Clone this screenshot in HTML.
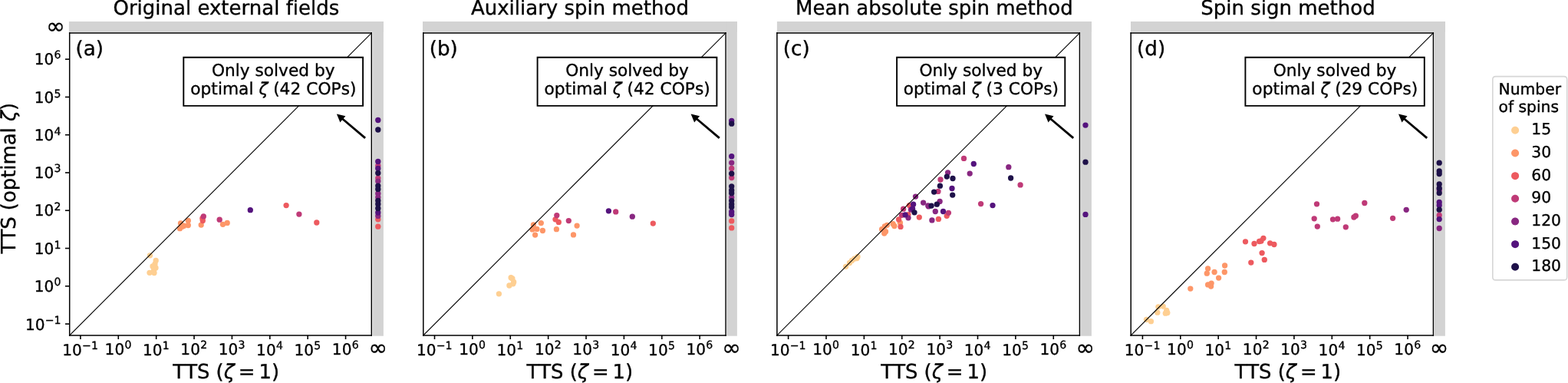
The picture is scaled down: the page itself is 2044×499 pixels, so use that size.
<!DOCTYPE html>
<html><head><meta charset="utf-8"><style>html,body{margin:0;padding:0;background:#fff;overflow:hidden}svg{display:block}svg text{text-rendering:geometricPrecision;stroke:#000;stroke-width:0.35px;font-variant-ligatures:none;font-feature-settings:"liga" 0,"clig" 0}</style></head><body>
<svg width="2044" height="499" viewBox="0 0 2044 499" version="1.1">
 
 <defs>
  <style type="text/css">*{stroke-linejoin: round; stroke-linecap: butt}</style>
 </defs>
 <g id="figure_1">
  <g id="patch_1">
   <path d="M 0 499 
L 2044 499 
L 2044 0 
L 0 0 
z
" style="fill: #ffffff"/>
  </g>
  <g id="axes_1">
   <g id="patch_2">
    <path d="M 89.9 27.9 
L 499.9 27.9 
L 499.9 41.7 
L 89.9 41.7 
z
" clip-path="url(#p36cf166029)" style="fill: #d3d3d3"/>
   </g>
   <g id="patch_3">
    <path d="M 485.5 27.9 
L 499.9 27.9 
L 499.9 437.7 
L 485.5 437.7 
z
" clip-path="url(#p36cf166029)" style="fill: #d3d3d3"/>
   </g>
   <g id="patch_4">
    <path d="M 551 27.9 
L 960.9 27.9 
L 960.9 41.7 
L 551 41.7 
z
" clip-path="url(#p36cf166029)" style="fill: #d3d3d3"/>
   </g>
   <g id="patch_5">
    <path d="M 947.2 27.9 
L 960.9 27.9 
L 960.9 437.7 
L 947.2 437.7 
z
" clip-path="url(#p36cf166029)" style="fill: #d3d3d3"/>
   </g>
   <g id="patch_6">
    <path d="M 1012.9 27.9 
L 1422.9 27.9 
L 1422.9 41.7 
L 1012.9 41.7 
z
" clip-path="url(#p36cf166029)" style="fill: #d3d3d3"/>
   </g>
   <g id="patch_7">
    <path d="M 1408.6 27.9 
L 1422.9 27.9 
L 1422.9 437.7 
L 1408.6 437.7 
z
" clip-path="url(#p36cf166029)" style="fill: #d3d3d3"/>
   </g>
   <g id="patch_8">
    <path d="M 1474 27.9 
L 1883.9 27.9 
L 1883.9 41.7 
L 1474 41.7 
z
" clip-path="url(#p36cf166029)" style="fill: #d3d3d3"/>
   </g>
   <g id="patch_9">
    <path d="M 1869.6 27.9 
L 1883.9 27.9 
L 1883.9 437.7 
L 1869.6 437.7 
z
" clip-path="url(#p36cf166029)" style="fill: #d3d3d3"/>
   </g>
   <g id="text_1">
    <!-- $10^{-1}$ -->
    <g transform="translate(81.287185 462.7)">
     <text>
      <tspan x="0" y="-0.139063" style="font-size: 20.1px; font-family: 'DejaVu Sans'">1</tspan>
      <tspan x="12.804138" y="-0.139063" style="font-size: 20.1px; font-family: 'DejaVu Sans'">0</tspan>
      <tspan x="25.799683" y="-7.795313" style="font-size: 14.07px; font-family: 'DejaVu Sans'">−</tspan>
      <tspan x="37.603467" y="-7.795313" style="font-size: 14.07px; font-family: 'DejaVu Sans'">1</tspan>
     </text>
    </g>
   </g>
   <g id="text_2">
    <!-- $10^{0}$ -->
    <g transform="translate(136.596099 462.7)">
     <text>
      <tspan x="0" y="-0.953125" style="font-size: 20.1px; font-family: 'DejaVu Sans'">1</tspan>
      <tspan x="12.804138" y="-0.953125" style="font-size: 20.1px; font-family: 'DejaVu Sans'">0</tspan>
      <tspan x="25.799683" y="-8.609375" style="font-size: 14.07px; font-family: 'DejaVu Sans'">0</tspan>
     </text>
    </g>
   </g>
   <g id="text_3">
    <!-- $10^{1}$ -->
    <g transform="translate(185.975514 462.7)">
     <text>
      <tspan x="0" y="-0.139063" style="font-size: 20.1px; font-family: 'DejaVu Sans'">1</tspan>
      <tspan x="12.804138" y="-0.139063" style="font-size: 20.1px; font-family: 'DejaVu Sans'">0</tspan>
      <tspan x="25.799683" y="-7.795313" style="font-size: 14.07px; font-family: 'DejaVu Sans'">1</tspan>
     </text>
    </g>
   </g>
   <g id="text_4">
    <!-- $10^{2}$ -->
    <g transform="translate(235.354928 462.7)">
     <text>
      <tspan x="0" y="-0.953125" style="font-size: 20.1px; font-family: 'DejaVu Sans'">1</tspan>
      <tspan x="12.804138" y="-0.953125" style="font-size: 20.1px; font-family: 'DejaVu Sans'">0</tspan>
      <tspan x="25.799683" y="-8.609375" style="font-size: 14.07px; font-family: 'DejaVu Sans'">2</tspan>
     </text>
    </g>
   </g>
   <g id="text_5">
    <!-- $10^{3}$ -->
    <g transform="translate(284.734343 462.7)">
     <text>
      <tspan x="0" y="-0.953125" style="font-size: 20.1px; font-family: 'DejaVu Sans'">1</tspan>
      <tspan x="12.804138" y="-0.953125" style="font-size: 20.1px; font-family: 'DejaVu Sans'">0</tspan>
      <tspan x="25.799683" y="-8.609375" style="font-size: 14.07px; font-family: 'DejaVu Sans'">3</tspan>
     </text>
    </g>
   </g>
   <g id="text_6">
    <!-- $10^{4}$ -->
    <g transform="translate(334.113757 462.7)">
     <text>
      <tspan x="0" y="-0.139063" style="font-size: 20.1px; font-family: 'DejaVu Sans'">1</tspan>
      <tspan x="12.804138" y="-0.139063" style="font-size: 20.1px; font-family: 'DejaVu Sans'">0</tspan>
      <tspan x="25.799683" y="-7.795313" style="font-size: 14.07px; font-family: 'DejaVu Sans'">4</tspan>
     </text>
    </g>
   </g>
   <g id="text_7">
    <!-- $10^{5}$ -->
    <g transform="translate(383.493171 462.7)">
     <text>
      <tspan x="0" y="-0.139063" style="font-size: 20.1px; font-family: 'DejaVu Sans'">1</tspan>
      <tspan x="12.804138" y="-0.139063" style="font-size: 20.1px; font-family: 'DejaVu Sans'">0</tspan>
      <tspan x="25.799683" y="-7.795313" style="font-size: 14.07px; font-family: 'DejaVu Sans'">5</tspan>
     </text>
    </g>
   </g>
   <g id="text_8">
    <!-- $10^{6}$ -->
    <g transform="translate(432.872586 462.7)">
     <text>
      <tspan x="0" y="-0.953125" style="font-size: 20.1px; font-family: 'DejaVu Sans'">1</tspan>
      <tspan x="12.804138" y="-0.953125" style="font-size: 20.1px; font-family: 'DejaVu Sans'">0</tspan>
      <tspan x="25.799683" y="-8.609375" style="font-size: 14.07px; font-family: 'DejaVu Sans'">6</tspan>
     </text>
    </g>
   </g>
   <g id="text_9">
    <!-- $\infty$ -->
    <g transform="translate(480.41 463)">
     <text>
      <tspan x="0" y="-0.390625" style="font-size: 29.5px; font-family: 'DejaVu Sans'">∞</tspan>
     </text>
    </g>
   </g>
   <g id="text_10">
    <!-- TTS ($\zeta=1$) -->
    <g transform="translate(225.3585 492.9)">
     <text>
      <tspan x="0" y="-0.25" style="font-size: 25.9px; font-family: 'DejaVu Sans'">T</tspan>
      <tspan x="15.805481" y="-0.25" style="font-size: 25.9px; font-family: 'DejaVu Sans'">T</tspan>
      <tspan x="31.610962" y="-0.25" style="font-size: 25.9px; font-family: 'DejaVu Sans'">S</tspan>
      <tspan x="48.035522" y="-0.25" style="font-size: 25.9px; font-family: 'DejaVu Sans'"> </tspan>
      <tspan x="56.260437" y="-0.25" style="font-size: 25.9px; font-family: 'DejaVu Sans'">(</tspan>
      <tspan x="85.470886" y="-0.25" style="font-size: 25.9px; font-family: 'DejaVu Sans'">=</tspan>
      <tspan x="112.192383" y="-0.25" style="font-size: 25.9px; font-family: 'DejaVu Sans'">1</tspan>
      <tspan x="128.654846" y="-0.25" style="font-size: 25.9px; font-family: 'DejaVu Sans'">)</tspan>
      <tspan x="66.355225" y="-0.25" style="font-style: oblique; font-size: 25.9px; font-family: 'DejaVu Sans'">ζ</tspan>
     </text>
    </g>
   </g>
   <g id="text_11">
    <text style="font-size: 26px; font-family: 'DejaVu Sans'; text-anchor: middle" x="294.9" y="19.1" transform="rotate(-0 294.9 19.1)">Original external fields</text>
   </g>
   <g id="text_12">
    <text style="font-size: 26.2px; font-family: 'DejaVu Sans'; text-anchor: start" x="98.6" y="72.45" transform="rotate(-0 98.6 72.45)">(a)</text>
   </g>
   <g id="text_13">
    <!-- $10^{-1}$ -->
    <g transform="translate(542.887185 462.7)">
     <text>
      <tspan x="0" y="-0.139063" style="font-size: 20.1px; font-family: 'DejaVu Sans'">1</tspan>
      <tspan x="12.804138" y="-0.139063" style="font-size: 20.1px; font-family: 'DejaVu Sans'">0</tspan>
      <tspan x="25.799683" y="-7.795313" style="font-size: 14.07px; font-family: 'DejaVu Sans'">−</tspan>
      <tspan x="37.603467" y="-7.795313" style="font-size: 14.07px; font-family: 'DejaVu Sans'">1</tspan>
     </text>
    </g>
   </g>
   <g id="text_14">
    <!-- $10^{0}$ -->
    <g transform="translate(598.196099 462.7)">
     <text>
      <tspan x="0" y="-0.953125" style="font-size: 20.1px; font-family: 'DejaVu Sans'">1</tspan>
      <tspan x="12.804138" y="-0.953125" style="font-size: 20.1px; font-family: 'DejaVu Sans'">0</tspan>
      <tspan x="25.799683" y="-8.609375" style="font-size: 14.07px; font-family: 'DejaVu Sans'">0</tspan>
     </text>
    </g>
   </g>
   <g id="text_15">
    <!-- $10^{1}$ -->
    <g transform="translate(647.575514 462.7)">
     <text>
      <tspan x="0" y="-0.139063" style="font-size: 20.1px; font-family: 'DejaVu Sans'">1</tspan>
      <tspan x="12.804138" y="-0.139063" style="font-size: 20.1px; font-family: 'DejaVu Sans'">0</tspan>
      <tspan x="25.799683" y="-7.795313" style="font-size: 14.07px; font-family: 'DejaVu Sans'">1</tspan>
     </text>
    </g>
   </g>
   <g id="text_16">
    <!-- $10^{2}$ -->
    <g transform="translate(696.954928 462.7)">
     <text>
      <tspan x="0" y="-0.953125" style="font-size: 20.1px; font-family: 'DejaVu Sans'">1</tspan>
      <tspan x="12.804138" y="-0.953125" style="font-size: 20.1px; font-family: 'DejaVu Sans'">0</tspan>
      <tspan x="25.799683" y="-8.609375" style="font-size: 14.07px; font-family: 'DejaVu Sans'">2</tspan>
     </text>
    </g>
   </g>
   <g id="text_17">
    <!-- $10^{3}$ -->
    <g transform="translate(746.334343 462.7)">
     <text>
      <tspan x="0" y="-0.953125" style="font-size: 20.1px; font-family: 'DejaVu Sans'">1</tspan>
      <tspan x="12.804138" y="-0.953125" style="font-size: 20.1px; font-family: 'DejaVu Sans'">0</tspan>
      <tspan x="25.799683" y="-8.609375" style="font-size: 14.07px; font-family: 'DejaVu Sans'">3</tspan>
     </text>
    </g>
   </g>
   <g id="text_18">
    <!-- $10^{4}$ -->
    <g transform="translate(795.713757 462.7)">
     <text>
      <tspan x="0" y="-0.139063" style="font-size: 20.1px; font-family: 'DejaVu Sans'">1</tspan>
      <tspan x="12.804138" y="-0.139063" style="font-size: 20.1px; font-family: 'DejaVu Sans'">0</tspan>
      <tspan x="25.799683" y="-7.795313" style="font-size: 14.07px; font-family: 'DejaVu Sans'">4</tspan>
     </text>
    </g>
   </g>
   <g id="text_19">
    <!-- $10^{5}$ -->
    <g transform="translate(845.093171 462.7)">
     <text>
      <tspan x="0" y="-0.139063" style="font-size: 20.1px; font-family: 'DejaVu Sans'">1</tspan>
      <tspan x="12.804138" y="-0.139063" style="font-size: 20.1px; font-family: 'DejaVu Sans'">0</tspan>
      <tspan x="25.799683" y="-7.795313" style="font-size: 14.07px; font-family: 'DejaVu Sans'">5</tspan>
     </text>
    </g>
   </g>
   <g id="text_20">
    <!-- $10^{6}$ -->
    <g transform="translate(894.472586 462.7)">
     <text>
      <tspan x="0" y="-0.953125" style="font-size: 20.1px; font-family: 'DejaVu Sans'">1</tspan>
      <tspan x="12.804138" y="-0.953125" style="font-size: 20.1px; font-family: 'DejaVu Sans'">0</tspan>
      <tspan x="25.799683" y="-8.609375" style="font-size: 14.07px; font-family: 'DejaVu Sans'">6</tspan>
     </text>
    </g>
   </g>
   <g id="text_21">
    <!-- $\infty$ -->
    <g transform="translate(941.31 463)">
     <text>
      <tspan x="0" y="-0.390625" style="font-size: 29.5px; font-family: 'DejaVu Sans'">∞</tspan>
     </text>
    </g>
   </g>
   <g id="text_22">
    <!-- TTS ($\zeta=1$) -->
    <g transform="translate(686.4085 492.9)">
     <text>
      <tspan x="0" y="-0.25" style="font-size: 25.9px; font-family: 'DejaVu Sans'">T</tspan>
      <tspan x="15.805481" y="-0.25" style="font-size: 25.9px; font-family: 'DejaVu Sans'">T</tspan>
      <tspan x="31.610962" y="-0.25" style="font-size: 25.9px; font-family: 'DejaVu Sans'">S</tspan>
      <tspan x="48.035522" y="-0.25" style="font-size: 25.9px; font-family: 'DejaVu Sans'"> </tspan>
      <tspan x="56.260437" y="-0.25" style="font-size: 25.9px; font-family: 'DejaVu Sans'">(</tspan>
      <tspan x="85.470886" y="-0.25" style="font-size: 25.9px; font-family: 'DejaVu Sans'">=</tspan>
      <tspan x="112.192383" y="-0.25" style="font-size: 25.9px; font-family: 'DejaVu Sans'">1</tspan>
      <tspan x="128.654846" y="-0.25" style="font-size: 25.9px; font-family: 'DejaVu Sans'">)</tspan>
      <tspan x="66.355225" y="-0.25" style="font-style: oblique; font-size: 25.9px; font-family: 'DejaVu Sans'">ζ</tspan>
     </text>
    </g>
   </g>
   <g id="text_23">
    <text style="font-size: 26px; font-family: 'DejaVu Sans'; text-anchor: middle" x="755.95" y="19.1" transform="rotate(-0 755.95 19.1)">Auxiliary spin method</text>
   </g>
   <g id="text_24">
    <text style="font-size: 26.2px; font-family: 'DejaVu Sans'; text-anchor: start" x="559.7" y="72.45" transform="rotate(-0 559.7 72.45)">(b)</text>
   </g>
   <g id="text_25">
    <!-- $10^{-1}$ -->
    <g transform="translate(1003.987185 462.7)">
     <text>
      <tspan x="0" y="-0.139063" style="font-size: 20.1px; font-family: 'DejaVu Sans'">1</tspan>
      <tspan x="12.804138" y="-0.139063" style="font-size: 20.1px; font-family: 'DejaVu Sans'">0</tspan>
      <tspan x="25.799683" y="-7.795313" style="font-size: 14.07px; font-family: 'DejaVu Sans'">−</tspan>
      <tspan x="37.603467" y="-7.795313" style="font-size: 14.07px; font-family: 'DejaVu Sans'">1</tspan>
     </text>
    </g>
   </g>
   <g id="text_26">
    <!-- $10^{0}$ -->
    <g transform="translate(1059.296099 462.7)">
     <text>
      <tspan x="0" y="-0.953125" style="font-size: 20.1px; font-family: 'DejaVu Sans'">1</tspan>
      <tspan x="12.804138" y="-0.953125" style="font-size: 20.1px; font-family: 'DejaVu Sans'">0</tspan>
      <tspan x="25.799683" y="-8.609375" style="font-size: 14.07px; font-family: 'DejaVu Sans'">0</tspan>
     </text>
    </g>
   </g>
   <g id="text_27">
    <!-- $10^{1}$ -->
    <g transform="translate(1108.675514 462.7)">
     <text>
      <tspan x="0" y="-0.139063" style="font-size: 20.1px; font-family: 'DejaVu Sans'">1</tspan>
      <tspan x="12.804138" y="-0.139063" style="font-size: 20.1px; font-family: 'DejaVu Sans'">0</tspan>
      <tspan x="25.799683" y="-7.795313" style="font-size: 14.07px; font-family: 'DejaVu Sans'">1</tspan>
     </text>
    </g>
   </g>
   <g id="text_28">
    <!-- $10^{2}$ -->
    <g transform="translate(1158.054928 462.7)">
     <text>
      <tspan x="0" y="-0.953125" style="font-size: 20.1px; font-family: 'DejaVu Sans'">1</tspan>
      <tspan x="12.804138" y="-0.953125" style="font-size: 20.1px; font-family: 'DejaVu Sans'">0</tspan>
      <tspan x="25.799683" y="-8.609375" style="font-size: 14.07px; font-family: 'DejaVu Sans'">2</tspan>
     </text>
    </g>
   </g>
   <g id="text_29">
    <!-- $10^{3}$ -->
    <g transform="translate(1207.434343 462.7)">
     <text>
      <tspan x="0" y="-0.953125" style="font-size: 20.1px; font-family: 'DejaVu Sans'">1</tspan>
      <tspan x="12.804138" y="-0.953125" style="font-size: 20.1px; font-family: 'DejaVu Sans'">0</tspan>
      <tspan x="25.799683" y="-8.609375" style="font-size: 14.07px; font-family: 'DejaVu Sans'">3</tspan>
     </text>
    </g>
   </g>
   <g id="text_30">
    <!-- $10^{4}$ -->
    <g transform="translate(1256.813757 462.7)">
     <text>
      <tspan x="0" y="-0.139063" style="font-size: 20.1px; font-family: 'DejaVu Sans'">1</tspan>
      <tspan x="12.804138" y="-0.139063" style="font-size: 20.1px; font-family: 'DejaVu Sans'">0</tspan>
      <tspan x="25.799683" y="-7.795313" style="font-size: 14.07px; font-family: 'DejaVu Sans'">4</tspan>
     </text>
    </g>
   </g>
   <g id="text_31">
    <!-- $10^{5}$ -->
    <g transform="translate(1306.193171 462.7)">
     <text>
      <tspan x="0" y="-0.139063" style="font-size: 20.1px; font-family: 'DejaVu Sans'">1</tspan>
      <tspan x="12.804138" y="-0.139063" style="font-size: 20.1px; font-family: 'DejaVu Sans'">0</tspan>
      <tspan x="25.799683" y="-7.795313" style="font-size: 14.07px; font-family: 'DejaVu Sans'">5</tspan>
     </text>
    </g>
   </g>
   <g id="text_32">
    <!-- $10^{6}$ -->
    <g transform="translate(1355.572586 462.7)">
     <text>
      <tspan x="0" y="-0.953125" style="font-size: 20.1px; font-family: 'DejaVu Sans'">1</tspan>
      <tspan x="12.804138" y="-0.953125" style="font-size: 20.1px; font-family: 'DejaVu Sans'">0</tspan>
      <tspan x="25.799683" y="-8.609375" style="font-size: 14.07px; font-family: 'DejaVu Sans'">6</tspan>
     </text>
    </g>
   </g>
   <g id="text_33">
    <!-- $\infty$ -->
    <g transform="translate(1402.61 463)">
     <text>
      <tspan x="0" y="-0.390625" style="font-size: 29.5px; font-family: 'DejaVu Sans'">∞</tspan>
     </text>
    </g>
   </g>
   <g id="text_34">
    <!-- TTS ($\zeta=1$) -->
    <g transform="translate(1148.3585 492.9)">
     <text>
      <tspan x="0" y="-0.25" style="font-size: 25.9px; font-family: 'DejaVu Sans'">T</tspan>
      <tspan x="15.805481" y="-0.25" style="font-size: 25.9px; font-family: 'DejaVu Sans'">T</tspan>
      <tspan x="31.610962" y="-0.25" style="font-size: 25.9px; font-family: 'DejaVu Sans'">S</tspan>
      <tspan x="48.035522" y="-0.25" style="font-size: 25.9px; font-family: 'DejaVu Sans'"> </tspan>
      <tspan x="56.260437" y="-0.25" style="font-size: 25.9px; font-family: 'DejaVu Sans'">(</tspan>
      <tspan x="85.470886" y="-0.25" style="font-size: 25.9px; font-family: 'DejaVu Sans'">=</tspan>
      <tspan x="112.192383" y="-0.25" style="font-size: 25.9px; font-family: 'DejaVu Sans'">1</tspan>
      <tspan x="128.654846" y="-0.25" style="font-size: 25.9px; font-family: 'DejaVu Sans'">)</tspan>
      <tspan x="66.355225" y="-0.25" style="font-style: oblique; font-size: 25.9px; font-family: 'DejaVu Sans'">ζ</tspan>
     </text>
    </g>
   </g>
   <g id="text_35">
    <text style="font-size: 26px; font-family: 'DejaVu Sans'; text-anchor: middle" x="1217.9" y="19.1" transform="rotate(-0 1217.9 19.1)">Mean absolute spin method</text>
   </g>
   <g id="text_36">
    <text style="font-size: 26.2px; font-family: 'DejaVu Sans'; text-anchor: start" x="1020.8" y="72.45" transform="rotate(-0 1020.8 72.45)">(c)</text>
   </g>
   <g id="text_37">
    <!-- $10^{-1}$ -->
    <g transform="translate(1465.787185 462.7)">
     <text>
      <tspan x="0" y="-0.139063" style="font-size: 20.1px; font-family: 'DejaVu Sans'">1</tspan>
      <tspan x="12.804138" y="-0.139063" style="font-size: 20.1px; font-family: 'DejaVu Sans'">0</tspan>
      <tspan x="25.799683" y="-7.795313" style="font-size: 14.07px; font-family: 'DejaVu Sans'">−</tspan>
      <tspan x="37.603467" y="-7.795313" style="font-size: 14.07px; font-family: 'DejaVu Sans'">1</tspan>
     </text>
    </g>
   </g>
   <g id="text_38">
    <!-- $10^{0}$ -->
    <g transform="translate(1521.096099 462.7)">
     <text>
      <tspan x="0" y="-0.953125" style="font-size: 20.1px; font-family: 'DejaVu Sans'">1</tspan>
      <tspan x="12.804138" y="-0.953125" style="font-size: 20.1px; font-family: 'DejaVu Sans'">0</tspan>
      <tspan x="25.799683" y="-8.609375" style="font-size: 14.07px; font-family: 'DejaVu Sans'">0</tspan>
     </text>
    </g>
   </g>
   <g id="text_39">
    <!-- $10^{1}$ -->
    <g transform="translate(1570.475514 462.7)">
     <text>
      <tspan x="0" y="-0.139063" style="font-size: 20.1px; font-family: 'DejaVu Sans'">1</tspan>
      <tspan x="12.804138" y="-0.139063" style="font-size: 20.1px; font-family: 'DejaVu Sans'">0</tspan>
      <tspan x="25.799683" y="-7.795313" style="font-size: 14.07px; font-family: 'DejaVu Sans'">1</tspan>
     </text>
    </g>
   </g>
   <g id="text_40">
    <!-- $10^{2}$ -->
    <g transform="translate(1619.854928 462.7)">
     <text>
      <tspan x="0" y="-0.953125" style="font-size: 20.1px; font-family: 'DejaVu Sans'">1</tspan>
      <tspan x="12.804138" y="-0.953125" style="font-size: 20.1px; font-family: 'DejaVu Sans'">0</tspan>
      <tspan x="25.799683" y="-8.609375" style="font-size: 14.07px; font-family: 'DejaVu Sans'">2</tspan>
     </text>
    </g>
   </g>
   <g id="text_41">
    <!-- $10^{3}$ -->
    <g transform="translate(1669.234343 462.7)">
     <text>
      <tspan x="0" y="-0.953125" style="font-size: 20.1px; font-family: 'DejaVu Sans'">1</tspan>
      <tspan x="12.804138" y="-0.953125" style="font-size: 20.1px; font-family: 'DejaVu Sans'">0</tspan>
      <tspan x="25.799683" y="-8.609375" style="font-size: 14.07px; font-family: 'DejaVu Sans'">3</tspan>
     </text>
    </g>
   </g>
   <g id="text_42">
    <!-- $10^{4}$ -->
    <g transform="translate(1718.613757 462.7)">
     <text>
      <tspan x="0" y="-0.139063" style="font-size: 20.1px; font-family: 'DejaVu Sans'">1</tspan>
      <tspan x="12.804138" y="-0.139063" style="font-size: 20.1px; font-family: 'DejaVu Sans'">0</tspan>
      <tspan x="25.799683" y="-7.795313" style="font-size: 14.07px; font-family: 'DejaVu Sans'">4</tspan>
     </text>
    </g>
   </g>
   <g id="text_43">
    <!-- $10^{5}$ -->
    <g transform="translate(1767.993171 462.7)">
     <text>
      <tspan x="0" y="-0.139063" style="font-size: 20.1px; font-family: 'DejaVu Sans'">1</tspan>
      <tspan x="12.804138" y="-0.139063" style="font-size: 20.1px; font-family: 'DejaVu Sans'">0</tspan>
      <tspan x="25.799683" y="-7.795313" style="font-size: 14.07px; font-family: 'DejaVu Sans'">5</tspan>
     </text>
    </g>
   </g>
   <g id="text_44">
    <!-- $10^{6}$ -->
    <g transform="translate(1817.372586 462.7)">
     <text>
      <tspan x="0" y="-0.953125" style="font-size: 20.1px; font-family: 'DejaVu Sans'">1</tspan>
      <tspan x="12.804138" y="-0.953125" style="font-size: 20.1px; font-family: 'DejaVu Sans'">0</tspan>
      <tspan x="25.799683" y="-8.609375" style="font-size: 14.07px; font-family: 'DejaVu Sans'">6</tspan>
     </text>
    </g>
   </g>
   <g id="text_45">
    <!-- $\infty$ -->
    <g transform="translate(1863.81 463)">
     <text>
      <tspan x="0" y="-0.390625" style="font-size: 29.5px; font-family: 'DejaVu Sans'">∞</tspan>
     </text>
    </g>
   </g>
   <g id="text_46">
    <!-- TTS ($\zeta=1$) -->
    <g transform="translate(1609.4085 492.9)">
     <text>
      <tspan x="0" y="-0.25" style="font-size: 25.9px; font-family: 'DejaVu Sans'">T</tspan>
      <tspan x="15.805481" y="-0.25" style="font-size: 25.9px; font-family: 'DejaVu Sans'">T</tspan>
      <tspan x="31.610962" y="-0.25" style="font-size: 25.9px; font-family: 'DejaVu Sans'">S</tspan>
      <tspan x="48.035522" y="-0.25" style="font-size: 25.9px; font-family: 'DejaVu Sans'"> </tspan>
      <tspan x="56.260437" y="-0.25" style="font-size: 25.9px; font-family: 'DejaVu Sans'">(</tspan>
      <tspan x="85.470886" y="-0.25" style="font-size: 25.9px; font-family: 'DejaVu Sans'">=</tspan>
      <tspan x="112.192383" y="-0.25" style="font-size: 25.9px; font-family: 'DejaVu Sans'">1</tspan>
      <tspan x="128.654846" y="-0.25" style="font-size: 25.9px; font-family: 'DejaVu Sans'">)</tspan>
      <tspan x="66.355225" y="-0.25" style="font-style: oblique; font-size: 25.9px; font-family: 'DejaVu Sans'">ζ</tspan>
     </text>
    </g>
   </g>
   <g id="text_47">
    <text style="font-size: 26px; font-family: 'DejaVu Sans'; text-anchor: middle" x="1678.95" y="19.1" transform="rotate(-0 1678.95 19.1)">Spin sign method</text>
   </g>
   <g id="text_48">
    <text style="font-size: 26.2px; font-family: 'DejaVu Sans'; text-anchor: start" x="1482.1" y="72.45" transform="rotate(-0 1482.1 72.45)">(d)</text>
   </g>
   <g id="text_49">
    <!-- $10^{-1}$ -->
    <g transform="translate(32.965 429.967953)">
     <text>
      <tspan x="0" y="-0.139063" style="font-size: 20.1px; font-family: 'DejaVu Sans'">1</tspan>
      <tspan x="12.804138" y="-0.139063" style="font-size: 20.1px; font-family: 'DejaVu Sans'">0</tspan>
      <tspan x="25.799683" y="-7.795313" style="font-size: 14.07px; font-family: 'DejaVu Sans'">−</tspan>
      <tspan x="37.603467" y="-7.795313" style="font-size: 14.07px; font-family: 'DejaVu Sans'">1</tspan>
     </text>
    </g>
   </g>
   <g id="text_50">
    <!-- $10^{0}$ -->
    <g transform="translate(44.824 380.696959)">
     <text>
      <tspan x="0" y="-0.953125" style="font-size: 20.1px; font-family: 'DejaVu Sans'">1</tspan>
      <tspan x="12.804138" y="-0.953125" style="font-size: 20.1px; font-family: 'DejaVu Sans'">0</tspan>
      <tspan x="25.799683" y="-8.609375" style="font-size: 14.07px; font-family: 'DejaVu Sans'">0</tspan>
     </text>
    </g>
   </g>
   <g id="text_51">
    <!-- $10^{1}$ -->
    <g transform="translate(44.824 331.425964)">
     <text>
      <tspan x="0" y="-0.139063" style="font-size: 20.1px; font-family: 'DejaVu Sans'">1</tspan>
      <tspan x="12.804138" y="-0.139063" style="font-size: 20.1px; font-family: 'DejaVu Sans'">0</tspan>
      <tspan x="25.799683" y="-7.795313" style="font-size: 14.07px; font-family: 'DejaVu Sans'">1</tspan>
     </text>
    </g>
   </g>
   <g id="text_52">
    <!-- $10^{2}$ -->
    <g transform="translate(44.824 282.15497)">
     <text>
      <tspan x="0" y="-0.953125" style="font-size: 20.1px; font-family: 'DejaVu Sans'">1</tspan>
      <tspan x="12.804138" y="-0.953125" style="font-size: 20.1px; font-family: 'DejaVu Sans'">0</tspan>
      <tspan x="25.799683" y="-8.609375" style="font-size: 14.07px; font-family: 'DejaVu Sans'">2</tspan>
     </text>
    </g>
   </g>
   <g id="text_53">
    <!-- $10^{3}$ -->
    <g transform="translate(44.824 232.883976)">
     <text>
      <tspan x="0" y="-0.953125" style="font-size: 20.1px; font-family: 'DejaVu Sans'">1</tspan>
      <tspan x="12.804138" y="-0.953125" style="font-size: 20.1px; font-family: 'DejaVu Sans'">0</tspan>
      <tspan x="25.799683" y="-8.609375" style="font-size: 14.07px; font-family: 'DejaVu Sans'">3</tspan>
     </text>
    </g>
   </g>
   <g id="text_54">
    <!-- $10^{4}$ -->
    <g transform="translate(44.824 183.612982)">
     <text>
      <tspan x="0" y="-0.139063" style="font-size: 20.1px; font-family: 'DejaVu Sans'">1</tspan>
      <tspan x="12.804138" y="-0.139063" style="font-size: 20.1px; font-family: 'DejaVu Sans'">0</tspan>
      <tspan x="25.799683" y="-7.795313" style="font-size: 14.07px; font-family: 'DejaVu Sans'">4</tspan>
     </text>
    </g>
   </g>
   <g id="text_55">
    <!-- $10^{5}$ -->
    <g transform="translate(44.824 134.341988)">
     <text>
      <tspan x="0" y="-0.139063" style="font-size: 20.1px; font-family: 'DejaVu Sans'">1</tspan>
      <tspan x="12.804138" y="-0.139063" style="font-size: 20.1px; font-family: 'DejaVu Sans'">0</tspan>
      <tspan x="25.799683" y="-7.795313" style="font-size: 14.07px; font-family: 'DejaVu Sans'">5</tspan>
     </text>
    </g>
   </g>
   <g id="text_56">
    <!-- $10^{6}$ -->
    <g transform="translate(44.824 85.070994)">
     <text>
      <tspan x="0" y="-0.953125" style="font-size: 20.1px; font-family: 'DejaVu Sans'">1</tspan>
      <tspan x="12.804138" y="-0.953125" style="font-size: 20.1px; font-family: 'DejaVu Sans'">0</tspan>
      <tspan x="25.799683" y="-8.609375" style="font-size: 14.07px; font-family: 'DejaVu Sans'">6</tspan>
     </text>
    </g>
   </g>
   <g id="text_57">
    <!-- $\infty$ -->
    <g transform="translate(60.21 43.9)">
     <text>
      <tspan x="0" y="-0.390625" style="font-size: 29.5px; font-family: 'DejaVu Sans'">∞</tspan>
     </text>
    </g>
   </g>
   <g id="text_58">
    <!-- TTS (optimal $\zeta$) -->
    <g transform="translate(20.6 330.42) rotate(-90)">
     <text>
      <tspan x="0" y="-0.25" style="font-size: 25.9px; font-family: 'DejaVu Sans'">T</tspan>
      <tspan x="15.805481" y="-0.25" style="font-size: 25.9px; font-family: 'DejaVu Sans'">T</tspan>
      <tspan x="31.610962" y="-0.25" style="font-size: 25.9px; font-family: 'DejaVu Sans'">S</tspan>
      <tspan x="48.035522" y="-0.25" style="font-size: 25.9px; font-family: 'DejaVu Sans'"> </tspan>
      <tspan x="56.260437" y="-0.25" style="font-size: 25.9px; font-family: 'DejaVu Sans'">(</tspan>
      <tspan x="66.355225" y="-0.25" style="font-size: 25.9px; font-family: 'DejaVu Sans'">o</tspan>
      <tspan x="82.185974" y="-0.25" style="font-size: 25.9px; font-family: 'DejaVu Sans'">p</tspan>
      <tspan x="98.610535" y="-0.25" style="font-size: 25.9px; font-family: 'DejaVu Sans'">t</tspan>
      <tspan x="108.755859" y="-0.25" style="font-size: 25.9px; font-family: 'DejaVu Sans'">i</tspan>
      <tspan x="115.944763" y="-0.25" style="font-size: 25.9px; font-family: 'DejaVu Sans'">m</tspan>
      <tspan x="141.150146" y="-0.25" style="font-size: 25.9px; font-family: 'DejaVu Sans'">a</tspan>
      <tspan x="157.006165" y="-0.25" style="font-size: 25.9px; font-family: 'DejaVu Sans'">l</tspan>
      <tspan x="164.195068" y="-0.25" style="font-size: 25.9px; font-family: 'DejaVu Sans'"> </tspan>
      <tspan x="186.494568" y="-0.25" style="font-size: 25.9px; font-family: 'DejaVu Sans'">)</tspan>
      <tspan x="172.419983" y="-0.25" style="font-style: oblique; font-size: 25.9px; font-family: 'DejaVu Sans'">ζ</tspan>
     </text>
    </g>
   </g>
   <g id="PathCollection_1">
    
    <g clip-path="url(#p36cf166029)">
     <circle cx="195.5" cy="332.8" r="3.650" fill="#fecf92"/>
     <circle cx="203.2" cy="339.5" r="3.650" fill="#fecf92"/>
     <circle cx="202" cy="344" r="3.650" fill="#fecf92"/>
     <circle cx="199" cy="347" r="3.650" fill="#fecf92"/>
     <circle cx="203" cy="349" r="3.650" fill="#fecf92"/>
     <circle cx="200.5" cy="352" r="3.650" fill="#fecf92"/>
     <circle cx="195" cy="355.3" r="3.650" fill="#fecf92"/>
     <circle cx="201" cy="355.5" r="3.650" fill="#fecf92"/>
    </g>
   </g>
   <g id="PathCollection_2">
    
    <g clip-path="url(#p36cf166029)">
     <circle cx="235.5" cy="291" r="3.650" fill="#fd9668"/>
     <circle cx="234.5" cy="297.7" r="3.650" fill="#fd9668"/>
     <circle cx="239.7" cy="294.2" r="3.650" fill="#fd9668"/>
     <circle cx="245.3" cy="287.5" r="3.650" fill="#fd9668"/>
     <circle cx="245.3" cy="293.5" r="3.650" fill="#fd9668"/>
     <circle cx="237.6" cy="295.2" r="3.650" fill="#fd9668"/>
     <circle cx="262.2" cy="293.1" r="3.650" fill="#fd9668"/>
     <circle cx="290.5" cy="292.3" r="3.650" fill="#fd9668"/>
     <circle cx="296.2" cy="290.4" r="3.650" fill="#fd9668"/>
    </g>
   </g>
   <g id="PathCollection_3">
    
    <g clip-path="url(#p36cf166029)">
     <circle cx="264.3" cy="287.5" r="3.650" fill="#ed5a5f"/>
     <circle cx="263.9" cy="284.4" r="3.650" fill="#ed5a5f"/>
     <circle cx="373.1" cy="267.6" r="3.650" fill="#ed5a5f"/>
     <circle cx="412.8" cy="290" r="3.650" fill="#ed5a5f"/>
     <circle cx="492.8" cy="285.8" r="3.650" fill="#ed5a5f"/>
     <circle cx="492.8" cy="295.2" r="3.650" fill="#ed5a5f"/>
    </g>
   </g>
   <g id="PathCollection_4">
    
    <g clip-path="url(#p36cf166029)">
     <circle cx="265.3" cy="281.9" r="3.650" fill="#bf3a77"/>
     <circle cx="286.2" cy="286.2" r="3.650" fill="#bf3a77"/>
     <circle cx="389.9" cy="279.1" r="3.650" fill="#bf3a77"/>
     <circle cx="492.8" cy="216" r="3.650" fill="#bf3a77"/>
     <circle cx="492.8" cy="232.1" r="3.650" fill="#bf3a77"/>
    </g>
   </g>
   <g id="PathCollection_5">
    
    <g clip-path="url(#p36cf166029)">
     <circle cx="492.8" cy="236.1" r="3.650" fill="#882781"/>
     <circle cx="492.8" cy="252.2" r="3.650" fill="#882781"/>
     <circle cx="492.8" cy="257.1" r="3.650" fill="#882781"/>
     <circle cx="492.8" cy="281.4" r="3.650" fill="#882781"/>
    </g>
   </g>
   <g id="PathCollection_6">
    
    <g clip-path="url(#p36cf166029)">
     <circle cx="326.3" cy="273.7" r="3.650" fill="#54137d"/>
     <circle cx="492.8" cy="156.5" r="3.650" fill="#54137d"/>
     <circle cx="492.8" cy="210.5" r="3.650" fill="#54137d"/>
     <circle cx="492.8" cy="219.5" r="3.650" fill="#54137d"/>
     <circle cx="492.8" cy="277" r="3.650" fill="#54137d"/>
    </g>
   </g>
   <g id="PathCollection_7">
    
    <g clip-path="url(#p36cf166029)">
     <circle cx="492.8" cy="169" r="3.650" fill="#1e1149"/>
     <circle cx="492.8" cy="225.5" r="3.650" fill="#1e1149"/>
     <circle cx="492.8" cy="242.1" r="3.650" fill="#1e1149"/>
     <circle cx="492.8" cy="246.4" r="3.650" fill="#1e1149"/>
     <circle cx="492.8" cy="261.5" r="3.650" fill="#1e1149"/>
     <circle cx="492.8" cy="266" r="3.650" fill="#1e1149"/>
     <circle cx="492.8" cy="271.5" r="3.650" fill="#1e1149"/>
    </g>
   </g>
   <g id="PathCollection_8">
    <g clip-path="url(#p36cf166029)">
     <circle cx="666.1" cy="361.7" r="3.650" fill="#fecf92"/>
     <circle cx="667.9" cy="363" r="3.650" fill="#fecf92"/>
     <circle cx="669.7" cy="367.5" r="3.650" fill="#fecf92"/>
     <circle cx="668.8" cy="369.8" r="3.650" fill="#fecf92"/>
     <circle cx="663.9" cy="372" r="3.650" fill="#fecf92"/>
     <circle cx="650.4" cy="382.8" r="3.650" fill="#fecf92"/>
    </g>
   </g>
   <g id="PathCollection_9">
    <g clip-path="url(#p36cf166029)">
     <circle cx="695.4" cy="293" r="3.650" fill="#fd9668"/>
     <circle cx="694" cy="298.9" r="3.650" fill="#fd9668"/>
     <circle cx="699.9" cy="298.4" r="3.650" fill="#fd9668"/>
     <circle cx="705.3" cy="290.6" r="3.650" fill="#fd9668"/>
     <circle cx="707.4" cy="300.5" r="3.650" fill="#fd9668"/>
     <circle cx="697.6" cy="306.1" r="3.650" fill="#fd9668"/>
     <circle cx="725.4" cy="298.7" r="3.650" fill="#fd9668"/>
     <circle cx="752.1" cy="294.1" r="3.650" fill="#fd9668"/>
     <circle cx="747.5" cy="305.9" r="3.650" fill="#fd9668"/>
    </g>
   </g>
   <g id="PathCollection_10">
    <g clip-path="url(#p36cf166029)">
     <circle cx="724" cy="285.8" r="3.650" fill="#ed5a5f"/>
     <circle cx="728.3" cy="289.4" r="3.650" fill="#ed5a5f"/>
     <circle cx="851.3" cy="291.1" r="3.650" fill="#ed5a5f"/>
     <circle cx="953.7" cy="287.9" r="3.650" fill="#ed5a5f"/>
     <circle cx="953.7" cy="296.9" r="3.650" fill="#ed5a5f"/>
    </g>
   </g>
   <g id="PathCollection_11">
    <g clip-path="url(#p36cf166029)">
     <circle cx="725.8" cy="280.6" r="3.650" fill="#bf3a77"/>
     <circle cx="741.3" cy="287.6" r="3.650" fill="#bf3a77"/>
     <circle cx="802.7" cy="275.9" r="3.650" fill="#bf3a77"/>
     <circle cx="953.7" cy="219.4" r="3.650" fill="#bf3a77"/>
     <circle cx="953.7" cy="231.6" r="3.650" fill="#bf3a77"/>
    </g>
   </g>
   <g id="PathCollection_12">
    <g clip-path="url(#p36cf166029)">
     <circle cx="824.3" cy="282.2" r="3.650" fill="#882781"/>
     <circle cx="953.7" cy="212.1" r="3.650" fill="#882781"/>
     <circle cx="953.7" cy="257.1" r="3.650" fill="#882781"/>
    </g>
   </g>
   <g id="PathCollection_13">
    <g clip-path="url(#p36cf166029)">
     <circle cx="793.4" cy="274.8" r="3.650" fill="#54137d"/>
     <circle cx="953.7" cy="157.3" r="3.650" fill="#54137d"/>
     <circle cx="953.7" cy="203.7" r="3.650" fill="#54137d"/>
     <circle cx="953.7" cy="275.9" r="3.650" fill="#54137d"/>
     <circle cx="953.7" cy="279.6" r="3.650" fill="#54137d"/>
    </g>
   </g>
   <g id="PathCollection_14">
    <g clip-path="url(#p36cf166029)">
     <circle cx="953.7" cy="161.2" r="3.650" fill="#1e1149"/>
     <circle cx="953.7" cy="226.2" r="3.650" fill="#1e1149"/>
     <circle cx="953.7" cy="242.8" r="3.650" fill="#1e1149"/>
     <circle cx="953.7" cy="248" r="3.650" fill="#1e1149"/>
     <circle cx="953.7" cy="251.8" r="3.650" fill="#1e1149"/>
     <circle cx="953.7" cy="261.6" r="3.650" fill="#1e1149"/>
     <circle cx="953.7" cy="266.1" r="3.650" fill="#1e1149"/>
     <circle cx="953.7" cy="269.8" r="3.650" fill="#1e1149"/>
    </g>
   </g>
   <g id="PathCollection_15">
    <g clip-path="url(#p36cf166029)">
     <circle cx="1102.6" cy="347.3" r="3.650" fill="#fecf92"/>
     <circle cx="1107.5" cy="342.5" r="3.650" fill="#fecf92"/>
     <circle cx="1110.5" cy="339.5" r="3.650" fill="#fecf92"/>
     <circle cx="1114" cy="337" r="3.650" fill="#fecf92"/>
     <circle cx="1118" cy="334.5" r="3.650" fill="#fecf92"/>
     <circle cx="1117" cy="336.5" r="3.650" fill="#fecf92"/>
    </g>
   </g>
   <g id="PathCollection_16">
    <g clip-path="url(#p36cf166029)">
     <circle cx="1149.6" cy="298.7" r="3.650" fill="#fd9668"/>
     <circle cx="1153.3" cy="294.8" r="3.650" fill="#fd9668"/>
     <circle cx="1156.3" cy="293.3" r="3.650" fill="#fd9668"/>
     <circle cx="1152.7" cy="304.1" r="3.650" fill="#fd9668"/>
     <circle cx="1154.5" cy="301.7" r="3.650" fill="#fd9668"/>
     <circle cx="1164.1" cy="291.7" r="3.650" fill="#fd9668"/>
     <circle cx="1165.9" cy="294.5" r="3.650" fill="#fd9668"/>
     <circle cx="1173.4" cy="290.2" r="3.650" fill="#fd9668"/>
    </g>
   </g>
   <g id="PathCollection_17">
    <g clip-path="url(#p36cf166029)">
     <circle cx="1171.6" cy="286" r="3.650" fill="#ed5a5f"/>
     <circle cx="1174" cy="295.4" r="3.650" fill="#ed5a5f"/>
     <circle cx="1185.4" cy="267.6" r="3.650" fill="#ed5a5f"/>
     <circle cx="1184" cy="279.6" r="3.650" fill="#ed5a5f"/>
     <circle cx="1198.3" cy="283.1" r="3.650" fill="#ed5a5f"/>
     <circle cx="1234.2" cy="281.3" r="3.650" fill="#ed5a5f"/>
     <circle cx="1223.4" cy="285.4" r="3.650" fill="#ed5a5f"/>
    </g>
   </g>
   <g id="PathCollection_18">
    <g clip-path="url(#p36cf166029)">
     <circle cx="1177.6" cy="272.2" r="3.650" fill="#bf3a77"/>
     <circle cx="1175.5" cy="280.3" r="3.650" fill="#bf3a77"/>
     <circle cx="1236.4" cy="277.3" r="3.650" fill="#bf3a77"/>
     <circle cx="1226" cy="234" r="3.650" fill="#bf3a77"/>
     <circle cx="1222.9" cy="249.4" r="3.650" fill="#bf3a77"/>
     <circle cx="1256.5" cy="206.4" r="3.650" fill="#bf3a77"/>
     <circle cx="1278.6" cy="265.6" r="3.650" fill="#bf3a77"/>
     <circle cx="1330.1" cy="240.9" r="3.650" fill="#bf3a77"/>
    </g>
   </g>
   <g id="PathCollection_19">
    <g clip-path="url(#p36cf166029)">
     <circle cx="1193.5" cy="256.1" r="3.650" fill="#882781"/>
     <circle cx="1203.6" cy="264.1" r="3.650" fill="#882781"/>
     <circle cx="1187.5" cy="273.2" r="3.650" fill="#882781"/>
     <circle cx="1184" cy="283.8" r="3.650" fill="#882781"/>
     <circle cx="1209.8" cy="267.9" r="3.650" fill="#882781"/>
     <circle cx="1225.1" cy="262.5" r="3.650" fill="#882781"/>
     <circle cx="1219.3" cy="275.5" r="3.650" fill="#882781"/>
     <circle cx="1214.9" cy="286.9" r="3.650" fill="#882781"/>
     <circle cx="1235.6" cy="224.8" r="3.650" fill="#882781"/>
     <circle cx="1264.2" cy="226.1" r="3.650" fill="#882781"/>
     <circle cx="1314.8" cy="217.7" r="3.650" fill="#882781"/>
     <circle cx="1210.5" cy="268.9" r="3.650" fill="#882781"/>
    </g>
   </g>
   <g id="PathCollection_20">
    <g clip-path="url(#p36cf166029)">
     <circle cx="1190.6" cy="266.2" r="3.650" fill="#54137d"/>
     <circle cx="1189.6" cy="271.8" r="3.650" fill="#54137d"/>
     <circle cx="1180.1" cy="279.9" r="3.650" fill="#54137d"/>
     <circle cx="1229.5" cy="275.5" r="3.650" fill="#54137d"/>
     <circle cx="1241" cy="245.5" r="3.650" fill="#54137d"/>
     <circle cx="1269.3" cy="213.5" r="3.650" fill="#54137d"/>
     <circle cx="1294" cy="267.6" r="3.650" fill="#54137d"/>
     <circle cx="1415" cy="163.1" r="3.650" fill="#54137d"/>
     <circle cx="1415" cy="279.4" r="3.650" fill="#54137d"/>
    </g>
   </g>
   <g id="PathCollection_21">
    <g clip-path="url(#p36cf166029)">
     <circle cx="1192" cy="276.8" r="3.650" fill="#1e1149"/>
     <circle cx="1225.4" cy="242.2" r="3.650" fill="#1e1149"/>
     <circle cx="1217.6" cy="250.1" r="3.650" fill="#1e1149"/>
     <circle cx="1241.7" cy="254.1" r="3.650" fill="#1e1149"/>
     <circle cx="1214.1" cy="268.1" r="3.650" fill="#1e1149"/>
     <circle cx="1221.3" cy="266.2" r="3.650" fill="#1e1149"/>
     <circle cx="1234.3" cy="230.1" r="3.650" fill="#1e1149"/>
     <circle cx="1242" cy="232.5" r="3.650" fill="#1e1149"/>
     <circle cx="1317.6" cy="232" r="3.650" fill="#1e1149"/>
     <circle cx="1415" cy="211.2" r="3.650" fill="#1e1149"/>
    </g>
   </g>
   <g id="PathCollection_22">
    <g clip-path="url(#p36cf166029)">
     <circle cx="1494.5" cy="416.3" r="3.650" fill="#fecf92"/>
     <circle cx="1500.4" cy="418.7" r="3.650" fill="#fecf92"/>
     <circle cx="1508.8" cy="407.2" r="3.650" fill="#fecf92"/>
     <circle cx="1509.9" cy="399.8" r="3.650" fill="#fecf92"/>
     <circle cx="1516.2" cy="399.1" r="3.650" fill="#fecf92"/>
     <circle cx="1520.7" cy="404.4" r="3.650" fill="#fecf92"/>
     <circle cx="1521.8" cy="407.5" r="3.650" fill="#fecf92"/>
     <circle cx="1519.3" cy="408.2" r="3.650" fill="#fecf92"/>
    </g>
   </g>
   <g id="PathCollection_23">
    <g clip-path="url(#p36cf166029)">
     <circle cx="1551.8" cy="376.1" r="3.650" fill="#fd9668"/>
     <circle cx="1574.6" cy="350" r="3.650" fill="#fd9668"/>
     <circle cx="1573.3" cy="356.2" r="3.650" fill="#fd9668"/>
     <circle cx="1583.1" cy="354.5" r="3.650" fill="#fd9668"/>
     <circle cx="1588.6" cy="362.1" r="3.650" fill="#fd9668"/>
     <circle cx="1596.6" cy="346" r="3.650" fill="#fd9668"/>
     <circle cx="1596.3" cy="354.5" r="3.650" fill="#fd9668"/>
     <circle cx="1574.6" cy="370.9" r="3.650" fill="#fd9668"/>
     <circle cx="1579.1" cy="369.1" r="3.650" fill="#fd9668"/>
     <circle cx="1578.6" cy="373.1" r="3.650" fill="#fd9668"/>
    </g>
   </g>
   <g id="PathCollection_24">
    <g clip-path="url(#p36cf166029)">
     <circle cx="1623.5" cy="314.8" r="3.650" fill="#ed5a5f"/>
     <circle cx="1635" cy="317.5" r="3.650" fill="#ed5a5f"/>
     <circle cx="1641.6" cy="314.5" r="3.650" fill="#ed5a5f"/>
     <circle cx="1644" cy="314" r="3.650" fill="#ed5a5f"/>
     <circle cx="1646.9" cy="310.3" r="3.650" fill="#ed5a5f"/>
     <circle cx="1655.6" cy="316.8" r="3.650" fill="#ed5a5f"/>
     <circle cx="1660.9" cy="318.5" r="3.650" fill="#ed5a5f"/>
     <circle cx="1645.1" cy="329.6" r="3.650" fill="#ed5a5f"/>
     <circle cx="1648.3" cy="338.4" r="3.650" fill="#ed5a5f"/>
     <circle cx="1630.8" cy="342.1" r="3.650" fill="#ed5a5f"/>
    </g>
   </g>
   <g id="PathCollection_25">
    <g clip-path="url(#p36cf166029)">
     <circle cx="1716.5" cy="265.8" r="3.650" fill="#bf3a77"/>
     <circle cx="1713.2" cy="284.8" r="3.650" fill="#bf3a77"/>
     <circle cx="1717.3" cy="295.1" r="3.650" fill="#bf3a77"/>
     <circle cx="1737.5" cy="285.8" r="3.650" fill="#bf3a77"/>
     <circle cx="1743.6" cy="285.2" r="3.650" fill="#bf3a77"/>
     <circle cx="1754.3" cy="295.8" r="3.650" fill="#bf3a77"/>
     <circle cx="1764.9" cy="283" r="3.650" fill="#bf3a77"/>
     <circle cx="1767.3" cy="281.2" r="3.650" fill="#bf3a77"/>
     <circle cx="1778.8" cy="264.5" r="3.650" fill="#bf3a77"/>
     <circle cx="1815.6" cy="284.3" r="3.650" fill="#bf3a77"/>
     <circle cx="1876.2" cy="280.4" r="3.650" fill="#bf3a77"/>
    </g>
   </g>
   <g id="PathCollection_26">
    <g clip-path="url(#p36cf166029)">
     <circle cx="1833.2" cy="273.3" r="3.650" fill="#882781"/>
     <circle cx="1876.2" cy="247.5" r="3.650" fill="#882781"/>
     <circle cx="1876.2" cy="297.5" r="3.650" fill="#882781"/>
    </g>
   </g>
   <g id="PathCollection_27">
    <g clip-path="url(#p36cf166029)">
     <circle cx="1876.2" cy="263.5" r="3.650" fill="#54137d"/>
     <circle cx="1876.2" cy="267.5" r="3.650" fill="#54137d"/>
     <circle cx="1876.2" cy="285.6" r="3.650" fill="#54137d"/>
    </g>
   </g>
   <g id="PathCollection_28">
    <g clip-path="url(#p36cf166029)">
     <circle cx="1876.2" cy="212.2" r="3.650" fill="#1e1149"/>
     <circle cx="1876.2" cy="223" r="3.650" fill="#1e1149"/>
     <circle cx="1876.2" cy="226.5" r="3.650" fill="#1e1149"/>
     <circle cx="1876.2" cy="240" r="3.650" fill="#1e1149"/>
     <circle cx="1876.2" cy="245.2" r="3.650" fill="#1e1149"/>
     <circle cx="1876.2" cy="251.5" r="3.650" fill="#1e1149"/>
     <circle cx="1876.2" cy="273.2" r="3.650" fill="#1e1149"/>
    </g>
   </g>
   <g id="line2d_1">
    <path d="M 90.7 436.9 
L 484.3 43 
" clip-path="url(#p36cf166029)" style="fill: none; stroke: #000000; stroke-width: 1.1; stroke-linecap: square"/>
   </g>
   <g id="line2d_2">
    <path d="M 551.8 436.9 
L 946 43 
" clip-path="url(#p36cf166029)" style="fill: none; stroke: #000000; stroke-width: 1.1; stroke-linecap: square"/>
   </g>
   <g id="line2d_3">
    <path d="M 1012.9 436.9 
L 1407.4 43 
" clip-path="url(#p36cf166029)" style="fill: none; stroke: #000000; stroke-width: 1.1; stroke-linecap: square"/>
   </g>
   <g id="line2d_4">
    <path d="M 1474.2 436.9 
L 1868.4 43 
" clip-path="url(#p36cf166029)" style="fill: none; stroke: #000000; stroke-width: 1.1; stroke-linecap: square"/>
   </g>
   <g id="line2d_5">
    <path d="M 90.7 42.3 
L 90.7 437.65 
" clip-path="url(#p36cf166029)" style="fill: none; stroke: #000000; stroke-width: 1.5"/>
   </g>
   <g id="line2d_6">
    <path d="M 89.95 436.9 
L 485 436.9 
" clip-path="url(#p36cf166029)" style="fill: none; stroke: #000000; stroke-width: 1.5"/>
   </g>
   <g id="line2d_7">
    <path d="M 89.95 43 
L 485 43 
" clip-path="url(#p36cf166029)" style="fill: none; stroke: #000000; stroke-width: 1.4"/>
   </g>
   <g id="line2d_8">
    <path d="M 484.3 42.3 
L 484.3 437.65 
" clip-path="url(#p36cf166029)" style="fill: none; stroke: #000000; stroke-width: 1.4"/>
   </g>
   <g id="line2d_9">
    <path d="M 104.904685 436.9 
L 104.904685 442 
" clip-path="url(#p36cf166029)" style="fill: none; stroke: #000000; stroke-width: 1.6"/>
   </g>
   <g id="line2d_10">
    <path d="M 154.284099 436.9 
L 154.284099 442 
" clip-path="url(#p36cf166029)" style="fill: none; stroke: #000000; stroke-width: 1.6"/>
   </g>
   <g id="line2d_11">
    <path d="M 203.663514 436.9 
L 203.663514 442 
" clip-path="url(#p36cf166029)" style="fill: none; stroke: #000000; stroke-width: 1.6"/>
   </g>
   <g id="line2d_12">
    <path d="M 253.042928 436.9 
L 253.042928 442 
" clip-path="url(#p36cf166029)" style="fill: none; stroke: #000000; stroke-width: 1.6"/>
   </g>
   <g id="line2d_13">
    <path d="M 302.422343 436.9 
L 302.422343 442 
" clip-path="url(#p36cf166029)" style="fill: none; stroke: #000000; stroke-width: 1.6"/>
   </g>
   <g id="line2d_14">
    <path d="M 351.801757 436.9 
L 351.801757 442 
" clip-path="url(#p36cf166029)" style="fill: none; stroke: #000000; stroke-width: 1.6"/>
   </g>
   <g id="line2d_15">
    <path d="M 401.181171 436.9 
L 401.181171 442 
" clip-path="url(#p36cf166029)" style="fill: none; stroke: #000000; stroke-width: 1.6"/>
   </g>
   <g id="line2d_16">
    <path d="M 450.560586 436.9 
L 450.560586 442 
" clip-path="url(#p36cf166029)" style="fill: none; stroke: #000000; stroke-width: 1.6"/>
   </g>
   <g id="line2d_17">
    <path d="M 551.8 42.3 
L 551.8 437.65 
" clip-path="url(#p36cf166029)" style="fill: none; stroke: #000000; stroke-width: 1.5"/>
   </g>
   <g id="line2d_18">
    <path d="M 551.05 436.9 
L 946.7 436.9 
" clip-path="url(#p36cf166029)" style="fill: none; stroke: #000000; stroke-width: 1.5"/>
   </g>
   <g id="line2d_19">
    <path d="M 551.05 43 
L 946.7 43 
" clip-path="url(#p36cf166029)" style="fill: none; stroke: #000000; stroke-width: 1.4"/>
   </g>
   <g id="line2d_20">
    <path d="M 946 42.3 
L 946 437.65 
" clip-path="url(#p36cf166029)" style="fill: none; stroke: #000000; stroke-width: 1.4"/>
   </g>
   <g id="line2d_21">
    <path d="M 566.504685 436.9 
L 566.504685 442 
" clip-path="url(#p36cf166029)" style="fill: none; stroke: #000000; stroke-width: 1.6"/>
   </g>
   <g id="line2d_22">
    <path d="M 615.884099 436.9 
L 615.884099 442 
" clip-path="url(#p36cf166029)" style="fill: none; stroke: #000000; stroke-width: 1.6"/>
   </g>
   <g id="line2d_23">
    <path d="M 665.263514 436.9 
L 665.263514 442 
" clip-path="url(#p36cf166029)" style="fill: none; stroke: #000000; stroke-width: 1.6"/>
   </g>
   <g id="line2d_24">
    <path d="M 714.642928 436.9 
L 714.642928 442 
" clip-path="url(#p36cf166029)" style="fill: none; stroke: #000000; stroke-width: 1.6"/>
   </g>
   <g id="line2d_25">
    <path d="M 764.022343 436.9 
L 764.022343 442 
" clip-path="url(#p36cf166029)" style="fill: none; stroke: #000000; stroke-width: 1.6"/>
   </g>
   <g id="line2d_26">
    <path d="M 813.401757 436.9 
L 813.401757 442 
" clip-path="url(#p36cf166029)" style="fill: none; stroke: #000000; stroke-width: 1.6"/>
   </g>
   <g id="line2d_27">
    <path d="M 862.781171 436.9 
L 862.781171 442 
" clip-path="url(#p36cf166029)" style="fill: none; stroke: #000000; stroke-width: 1.6"/>
   </g>
   <g id="line2d_28">
    <path d="M 912.160586 436.9 
L 912.160586 442 
" clip-path="url(#p36cf166029)" style="fill: none; stroke: #000000; stroke-width: 1.6"/>
   </g>
   <g id="line2d_29">
    <path d="M 1012.9 42.3 
L 1012.9 437.65 
" clip-path="url(#p36cf166029)" style="fill: none; stroke: #000000; stroke-width: 1.5"/>
   </g>
   <g id="line2d_30">
    <path d="M 1012.15 436.9 
L 1408.1 436.9 
" clip-path="url(#p36cf166029)" style="fill: none; stroke: #000000; stroke-width: 1.5"/>
   </g>
   <g id="line2d_31">
    <path d="M 1012.15 43 
L 1408.1 43 
" clip-path="url(#p36cf166029)" style="fill: none; stroke: #000000; stroke-width: 1.4"/>
   </g>
   <g id="line2d_32">
    <path d="M 1407.4 42.3 
L 1407.4 437.65 
" clip-path="url(#p36cf166029)" style="fill: none; stroke: #000000; stroke-width: 1.4"/>
   </g>
   <g id="line2d_33">
    <path d="M 1027.604685 436.9 
L 1027.604685 442 
" clip-path="url(#p36cf166029)" style="fill: none; stroke: #000000; stroke-width: 1.6"/>
   </g>
   <g id="line2d_34">
    <path d="M 1076.984099 436.9 
L 1076.984099 442 
" clip-path="url(#p36cf166029)" style="fill: none; stroke: #000000; stroke-width: 1.6"/>
   </g>
   <g id="line2d_35">
    <path d="M 1126.363514 436.9 
L 1126.363514 442 
" clip-path="url(#p36cf166029)" style="fill: none; stroke: #000000; stroke-width: 1.6"/>
   </g>
   <g id="line2d_36">
    <path d="M 1175.742928 436.9 
L 1175.742928 442 
" clip-path="url(#p36cf166029)" style="fill: none; stroke: #000000; stroke-width: 1.6"/>
   </g>
   <g id="line2d_37">
    <path d="M 1225.122343 436.9 
L 1225.122343 442 
" clip-path="url(#p36cf166029)" style="fill: none; stroke: #000000; stroke-width: 1.6"/>
   </g>
   <g id="line2d_38">
    <path d="M 1274.501757 436.9 
L 1274.501757 442 
" clip-path="url(#p36cf166029)" style="fill: none; stroke: #000000; stroke-width: 1.6"/>
   </g>
   <g id="line2d_39">
    <path d="M 1323.881171 436.9 
L 1323.881171 442 
" clip-path="url(#p36cf166029)" style="fill: none; stroke: #000000; stroke-width: 1.6"/>
   </g>
   <g id="line2d_40">
    <path d="M 1373.260586 436.9 
L 1373.260586 442 
" clip-path="url(#p36cf166029)" style="fill: none; stroke: #000000; stroke-width: 1.6"/>
   </g>
   <g id="line2d_41">
    <path d="M 1474.2 42.3 
L 1474.2 437.65 
" clip-path="url(#p36cf166029)" style="fill: none; stroke: #000000; stroke-width: 1.5"/>
   </g>
   <g id="line2d_42">
    <path d="M 1473.45 436.9 
L 1869.1 436.9 
" clip-path="url(#p36cf166029)" style="fill: none; stroke: #000000; stroke-width: 1.5"/>
   </g>
   <g id="line2d_43">
    <path d="M 1473.45 43 
L 1869.1 43 
" clip-path="url(#p36cf166029)" style="fill: none; stroke: #000000; stroke-width: 1.4"/>
   </g>
   <g id="line2d_44">
    <path d="M 1868.4 42.3 
L 1868.4 437.65 
" clip-path="url(#p36cf166029)" style="fill: none; stroke: #000000; stroke-width: 1.4"/>
   </g>
   <g id="line2d_45">
    <path d="M 1489.404685 436.9 
L 1489.404685 442 
" clip-path="url(#p36cf166029)" style="fill: none; stroke: #000000; stroke-width: 1.6"/>
   </g>
   <g id="line2d_46">
    <path d="M 1538.784099 436.9 
L 1538.784099 442 
" clip-path="url(#p36cf166029)" style="fill: none; stroke: #000000; stroke-width: 1.6"/>
   </g>
   <g id="line2d_47">
    <path d="M 1588.163514 436.9 
L 1588.163514 442 
" clip-path="url(#p36cf166029)" style="fill: none; stroke: #000000; stroke-width: 1.6"/>
   </g>
   <g id="line2d_48">
    <path d="M 1637.542928 436.9 
L 1637.542928 442 
" clip-path="url(#p36cf166029)" style="fill: none; stroke: #000000; stroke-width: 1.6"/>
   </g>
   <g id="line2d_49">
    <path d="M 1686.922343 436.9 
L 1686.922343 442 
" clip-path="url(#p36cf166029)" style="fill: none; stroke: #000000; stroke-width: 1.6"/>
   </g>
   <g id="line2d_50">
    <path d="M 1736.301757 436.9 
L 1736.301757 442 
" clip-path="url(#p36cf166029)" style="fill: none; stroke: #000000; stroke-width: 1.6"/>
   </g>
   <g id="line2d_51">
    <path d="M 1785.681171 436.9 
L 1785.681171 442 
" clip-path="url(#p36cf166029)" style="fill: none; stroke: #000000; stroke-width: 1.6"/>
   </g>
   <g id="line2d_52">
    <path d="M 1835.060586 436.9 
L 1835.060586 442 
" clip-path="url(#p36cf166029)" style="fill: none; stroke: #000000; stroke-width: 1.6"/>
   </g>
   <g id="line2d_53">
    <path d="M 85 422.067953 
L 90.1 422.067953 
" clip-path="url(#p36cf166029)" style="fill: none; stroke: #000000; stroke-width: 1.6"/>
   </g>
   <g id="line2d_54">
    <path d="M 85 372.796959 
L 90.1 372.796959 
" clip-path="url(#p36cf166029)" style="fill: none; stroke: #000000; stroke-width: 1.6"/>
   </g>
   <g id="line2d_55">
    <path d="M 85 323.525964 
L 90.1 323.525964 
" clip-path="url(#p36cf166029)" style="fill: none; stroke: #000000; stroke-width: 1.6"/>
   </g>
   <g id="line2d_56">
    <path d="M 85 274.25497 
L 90.1 274.25497 
" clip-path="url(#p36cf166029)" style="fill: none; stroke: #000000; stroke-width: 1.6"/>
   </g>
   <g id="line2d_57">
    <path d="M 85 224.983976 
L 90.1 224.983976 
" clip-path="url(#p36cf166029)" style="fill: none; stroke: #000000; stroke-width: 1.6"/>
   </g>
   <g id="line2d_58">
    <path d="M 85 175.712982 
L 90.1 175.712982 
" clip-path="url(#p36cf166029)" style="fill: none; stroke: #000000; stroke-width: 1.6"/>
   </g>
   <g id="line2d_59">
    <path d="M 85 126.441988 
L 90.1 126.441988 
" clip-path="url(#p36cf166029)" style="fill: none; stroke: #000000; stroke-width: 1.6"/>
   </g>
   <g id="line2d_60">
    <path d="M 85 77.170994 
L 90.1 77.170994 
" clip-path="url(#p36cf166029)" style="fill: none; stroke: #000000; stroke-width: 1.6"/>
   </g>
   <g id="patch_10">
    <path d="M 239.3 74.8 
L 473.1 74.8 
L 473.1 137.9 
L 239.3 137.9 
z
" clip-path="url(#p36cf166029)" style="fill: #ffffff; stroke: #000000; stroke-width: 1.9; stroke-linejoin: miter"/>
   </g>
   <g id="patch_11">
    <path d="M 477.003029 178.830169 
L 447.826761 154.202889 
L 450.406845 151.146229 
L 438.9 148.5 
L 443.440619 159.39921 
L 446.020702 156.342551 
L 475.196971 180.969831 
z
" clip-path="url(#p36cf166029)"/>
   </g>
   <g id="patch_12">
    <path d="M 700.6 74.8 
L 934.4 74.8 
L 934.4 137.9 
L 700.6 137.9 
z
" clip-path="url(#p36cf166029)" style="fill: #ffffff; stroke: #000000; stroke-width: 1.9; stroke-linejoin: miter"/>
   </g>
   <g id="patch_13">
    <path d="M 938.703029 178.830169 
L 909.526761 154.202889 
L 912.106845 151.146229 
L 900.6 148.5 
L 905.140619 159.39921 
L 907.720702 156.342551 
L 936.896971 180.969831 
z
" clip-path="url(#p36cf166029)"/>
   </g>
   <g id="patch_14">
    <path d="M 1169.1 74.8 
L 1388.3 74.8 
L 1388.3 137.9 
L 1169.1 137.9 
z
" clip-path="url(#p36cf166029)" style="fill: #ffffff; stroke: #000000; stroke-width: 1.9; stroke-linejoin: miter"/>
   </g>
   <g id="patch_15">
    <path d="M 1400.103029 178.830169 
L 1370.926761 154.202889 
L 1373.506845 151.146229 
L 1362 148.5 
L 1366.540619 159.39921 
L 1369.120702 156.342551 
L 1398.296971 180.969831 
z
" clip-path="url(#p36cf166029)"/>
   </g>
   <g id="patch_16">
    <path d="M 1623.4 74.8 
L 1856.8 74.8 
L 1856.8 137.9 
L 1623.4 137.9 
z
" clip-path="url(#p36cf166029)" style="fill: #ffffff; stroke: #000000; stroke-width: 1.9; stroke-linejoin: miter"/>
   </g>
   <g id="patch_17">
    <path d="M 1861.103029 178.830169 
L 1831.926761 154.202889 
L 1834.506845 151.146229 
L 1823 148.5 
L 1827.540619 159.39921 
L 1830.120702 156.342551 
L 1859.296971 180.969831 
z
" clip-path="url(#p36cf166029)"/>
   </g>
   <g id="text_59">
    <text style="font-size: 21.7px; font-family: 'DejaVu Sans'; text-anchor: middle" x="356.2" y="99.1" transform="rotate(-0 356.2 99.1)">Only solved by</text>
   </g>
   <g id="text_60">
    <!-- optimal $\zeta$ (42 COPs) -->
    <g transform="translate(248.2425 123.3)">
     <text>
      <tspan x="0" y="-0.28125" style="font-size: 21.7px; font-family: 'DejaVu Sans'">o</tspan>
      <tspan x="13.307007" y="-0.28125" style="font-size: 21.7px; font-family: 'DejaVu Sans'">p</tspan>
      <tspan x="27.113159" y="-0.28125" style="font-size: 21.7px; font-family: 'DejaVu Sans'">t</tspan>
      <tspan x="35.641113" y="-0.28125" style="font-size: 21.7px; font-family: 'DejaVu Sans'">i</tspan>
      <tspan x="41.68396" y="-0.28125" style="font-size: 21.7px; font-family: 'DejaVu Sans'">m</tspan>
      <tspan x="62.871094" y="-0.28125" style="font-size: 21.7px; font-family: 'DejaVu Sans'">a</tspan>
      <tspan x="76.199341" y="-0.28125" style="font-size: 21.7px; font-family: 'DejaVu Sans'">l</tspan>
      <tspan x="82.242188" y="-0.28125" style="font-size: 21.7px; font-family: 'DejaVu Sans'"> </tspan>
      <tspan x="100.986694" y="-0.28125" style="font-size: 21.7px; font-family: 'DejaVu Sans'"> </tspan>
      <tspan x="107.900391" y="-0.28125" style="font-size: 21.7px; font-family: 'DejaVu Sans'">(</tspan>
      <tspan x="116.385864" y="-0.28125" style="font-size: 21.7px; font-family: 'DejaVu Sans'">4</tspan>
      <tspan x="130.223877" y="-0.28125" style="font-size: 21.7px; font-family: 'DejaVu Sans'">2</tspan>
      <tspan x="144.06189" y="-0.28125" style="font-size: 21.7px; font-family: 'DejaVu Sans'"> </tspan>
      <tspan x="150.975586" y="-0.28125" style="font-size: 21.7px; font-family: 'DejaVu Sans'">C</tspan>
      <tspan x="166.162354" y="-0.28125" style="font-size: 21.7px; font-family: 'DejaVu Sans'">O</tspan>
      <tspan x="183.281982" y="-0.28125" style="font-size: 21.7px; font-family: 'DejaVu Sans'">P</tspan>
      <tspan x="196.397827" y="-0.28125" style="font-size: 21.7px; font-family: 'DejaVu Sans'">s</tspan>
      <tspan x="207.729492" y="-0.28125" style="font-size: 21.7px; font-family: 'DejaVu Sans'">)</tspan>
      <tspan x="89.155884" y="-0.28125" style="font-style: oblique; font-size: 21.7px; font-family: 'DejaVu Sans'">ζ</tspan>
     </text>
    </g>
   </g>
   <g id="text_61">
    <text style="font-size: 21.7px; font-family: 'DejaVu Sans'; text-anchor: middle" x="817.5" y="99.1" transform="rotate(-0 817.5 99.1)">Only solved by</text>
   </g>
   <g id="text_62">
    <!-- optimal $\zeta$ (42 COPs) -->
    <g transform="translate(709.5425 123.3)">
     <text>
      <tspan x="0" y="-0.28125" style="font-size: 21.7px; font-family: 'DejaVu Sans'">o</tspan>
      <tspan x="13.307007" y="-0.28125" style="font-size: 21.7px; font-family: 'DejaVu Sans'">p</tspan>
      <tspan x="27.113159" y="-0.28125" style="font-size: 21.7px; font-family: 'DejaVu Sans'">t</tspan>
      <tspan x="35.641113" y="-0.28125" style="font-size: 21.7px; font-family: 'DejaVu Sans'">i</tspan>
      <tspan x="41.68396" y="-0.28125" style="font-size: 21.7px; font-family: 'DejaVu Sans'">m</tspan>
      <tspan x="62.871094" y="-0.28125" style="font-size: 21.7px; font-family: 'DejaVu Sans'">a</tspan>
      <tspan x="76.199341" y="-0.28125" style="font-size: 21.7px; font-family: 'DejaVu Sans'">l</tspan>
      <tspan x="82.242188" y="-0.28125" style="font-size: 21.7px; font-family: 'DejaVu Sans'"> </tspan>
      <tspan x="100.986694" y="-0.28125" style="font-size: 21.7px; font-family: 'DejaVu Sans'"> </tspan>
      <tspan x="107.900391" y="-0.28125" style="font-size: 21.7px; font-family: 'DejaVu Sans'">(</tspan>
      <tspan x="116.385864" y="-0.28125" style="font-size: 21.7px; font-family: 'DejaVu Sans'">4</tspan>
      <tspan x="130.223877" y="-0.28125" style="font-size: 21.7px; font-family: 'DejaVu Sans'">2</tspan>
      <tspan x="144.06189" y="-0.28125" style="font-size: 21.7px; font-family: 'DejaVu Sans'"> </tspan>
      <tspan x="150.975586" y="-0.28125" style="font-size: 21.7px; font-family: 'DejaVu Sans'">C</tspan>
      <tspan x="166.162354" y="-0.28125" style="font-size: 21.7px; font-family: 'DejaVu Sans'">O</tspan>
      <tspan x="183.281982" y="-0.28125" style="font-size: 21.7px; font-family: 'DejaVu Sans'">P</tspan>
      <tspan x="196.397827" y="-0.28125" style="font-size: 21.7px; font-family: 'DejaVu Sans'">s</tspan>
      <tspan x="207.729492" y="-0.28125" style="font-size: 21.7px; font-family: 'DejaVu Sans'">)</tspan>
      <tspan x="89.155884" y="-0.28125" style="font-style: oblique; font-size: 21.7px; font-family: 'DejaVu Sans'">ζ</tspan>
     </text>
    </g>
   </g>
   <g id="text_63">
    <text style="font-size: 21.7px; font-family: 'DejaVu Sans'; text-anchor: middle" x="1278.7" y="99.1" transform="rotate(-0 1278.7 99.1)">Only solved by</text>
   </g>
   <g id="text_64">
    <!-- optimal $\zeta$ (3 COPs) -->
    <g transform="translate(1177.6865 123.3)">
     <text>
      <tspan x="0" y="-0.28125" style="font-size: 21.7px; font-family: 'DejaVu Sans'">o</tspan>
      <tspan x="13.307007" y="-0.28125" style="font-size: 21.7px; font-family: 'DejaVu Sans'">p</tspan>
      <tspan x="27.113159" y="-0.28125" style="font-size: 21.7px; font-family: 'DejaVu Sans'">t</tspan>
      <tspan x="35.641113" y="-0.28125" style="font-size: 21.7px; font-family: 'DejaVu Sans'">i</tspan>
      <tspan x="41.68396" y="-0.28125" style="font-size: 21.7px; font-family: 'DejaVu Sans'">m</tspan>
      <tspan x="62.871094" y="-0.28125" style="font-size: 21.7px; font-family: 'DejaVu Sans'">a</tspan>
      <tspan x="76.199341" y="-0.28125" style="font-size: 21.7px; font-family: 'DejaVu Sans'">l</tspan>
      <tspan x="82.242188" y="-0.28125" style="font-size: 21.7px; font-family: 'DejaVu Sans'"> </tspan>
      <tspan x="100.986694" y="-0.28125" style="font-size: 21.7px; font-family: 'DejaVu Sans'"> </tspan>
      <tspan x="107.900391" y="-0.28125" style="font-size: 21.7px; font-family: 'DejaVu Sans'">(</tspan>
      <tspan x="116.385864" y="-0.28125" style="font-size: 21.7px; font-family: 'DejaVu Sans'">3</tspan>
      <tspan x="130.223877" y="-0.28125" style="font-size: 21.7px; font-family: 'DejaVu Sans'"> </tspan>
      <tspan x="137.137573" y="-0.28125" style="font-size: 21.7px; font-family: 'DejaVu Sans'">C</tspan>
      <tspan x="152.324341" y="-0.28125" style="font-size: 21.7px; font-family: 'DejaVu Sans'">O</tspan>
      <tspan x="169.44397" y="-0.28125" style="font-size: 21.7px; font-family: 'DejaVu Sans'">P</tspan>
      <tspan x="182.559814" y="-0.28125" style="font-size: 21.7px; font-family: 'DejaVu Sans'">s</tspan>
      <tspan x="193.891479" y="-0.28125" style="font-size: 21.7px; font-family: 'DejaVu Sans'">)</tspan>
      <tspan x="89.155884" y="-0.28125" style="font-style: oblique; font-size: 21.7px; font-family: 'DejaVu Sans'">ζ</tspan>
     </text>
    </g>
   </g>
   <g id="text_65">
    <text style="font-size: 21.7px; font-family: 'DejaVu Sans'; text-anchor: middle" x="1740.1" y="99.1" transform="rotate(-0 1740.1 99.1)">Only solved by</text>
   </g>
   <g id="text_66">
    <!-- optimal $\zeta$ (29 COPs) -->
    <g transform="translate(1632.3595 123.3)">
     <text>
      <tspan x="0" y="-0.28125" style="font-size: 21.7px; font-family: 'DejaVu Sans'">o</tspan>
      <tspan x="13.307007" y="-0.28125" style="font-size: 21.7px; font-family: 'DejaVu Sans'">p</tspan>
      <tspan x="27.113159" y="-0.28125" style="font-size: 21.7px; font-family: 'DejaVu Sans'">t</tspan>
      <tspan x="35.641113" y="-0.28125" style="font-size: 21.7px; font-family: 'DejaVu Sans'">i</tspan>
      <tspan x="41.68396" y="-0.28125" style="font-size: 21.7px; font-family: 'DejaVu Sans'">m</tspan>
      <tspan x="62.871094" y="-0.28125" style="font-size: 21.7px; font-family: 'DejaVu Sans'">a</tspan>
      <tspan x="76.199341" y="-0.28125" style="font-size: 21.7px; font-family: 'DejaVu Sans'">l</tspan>
      <tspan x="82.242188" y="-0.28125" style="font-size: 21.7px; font-family: 'DejaVu Sans'"> </tspan>
      <tspan x="100.986694" y="-0.28125" style="font-size: 21.7px; font-family: 'DejaVu Sans'"> </tspan>
      <tspan x="107.900391" y="-0.28125" style="font-size: 21.7px; font-family: 'DejaVu Sans'">(</tspan>
      <tspan x="116.385864" y="-0.28125" style="font-size: 21.7px; font-family: 'DejaVu Sans'">2</tspan>
      <tspan x="129.848877" y="-0.28125" style="font-size: 21.7px; font-family: 'DejaVu Sans'">9</tspan>
      <tspan x="143.68689" y="-0.28125" style="font-size: 21.7px; font-family: 'DejaVu Sans'"> </tspan>
      <tspan x="150.600586" y="-0.28125" style="font-size: 21.7px; font-family: 'DejaVu Sans'">C</tspan>
      <tspan x="165.787354" y="-0.28125" style="font-size: 21.7px; font-family: 'DejaVu Sans'">O</tspan>
      <tspan x="182.906982" y="-0.28125" style="font-size: 21.7px; font-family: 'DejaVu Sans'">P</tspan>
      <tspan x="196.022827" y="-0.28125" style="font-size: 21.7px; font-family: 'DejaVu Sans'">s</tspan>
      <tspan x="207.354492" y="-0.28125" style="font-size: 21.7px; font-family: 'DejaVu Sans'">)</tspan>
      <tspan x="89.155884" y="-0.28125" style="font-style: oblique; font-size: 21.7px; font-family: 'DejaVu Sans'">ζ</tspan>
     </text>
    </g>
   </g>
   <g id="patch_18">
    <path d="M 1949.8 99.6 
L 2038.7 99.6 
Q 2042.7 99.6 2042.7 103.6 
L 2042.7 360.9 
Q 2042.7 364.9 2038.7 364.9 
L 1949.8 364.9 
Q 1945.8 364.9 1945.8 360.9 
L 1945.8 103.6 
Q 1945.8 99.6 1949.8 99.6 
z
" clip-path="url(#p36cf166029)" style="fill: #ffffff; stroke: #d6d6d6; stroke-width: 1.6; stroke-linejoin: miter"/>
   </g>
   <g id="text_67">
    <text style="font-size: 20.3px; font-family: 'DejaVu Sans'; text-anchor: start" x="1953.5" y="122.8" transform="rotate(-0 1953.5 122.8)">Number</text>
   </g>
   <g id="text_68">
    <text style="font-size: 20.3px; font-family: 'DejaVu Sans'; text-anchor: start" x="1953.5" y="145.5" transform="rotate(-0 1953.5 145.5)">of spins</text>
   </g>
   <g id="patch_19">
    <path d="M 1975.1 164.8 
C 1976.426015 164.8 1977.697899 165.326832 1978.635534 166.264466 
C 1979.573168 167.202101 1980.1 168.473985 1980.1 169.8 
C 1980.1 171.126016 1979.573168 172.397899 1978.635534 173.335534 
C 1977.697899 174.273168 1976.426015 174.8 1975.1 174.8 
C 1973.773984 174.8 1972.502101 174.273168 1971.564466 173.335534 
C 1970.626832 172.397899 1970.1 171.126016 1970.1 169.8 
C 1970.1 168.473985 1970.626832 167.202101 1971.564466 166.264466 
C 1972.502101 165.326832 1973.773984 164.8 1975.1 164.8 
z
" clip-path="url(#p36cf166029)" style="fill: #fecf92"/>
   </g>
   <g id="text_69">
    <text style="font-size: 20.3px; font-family: 'DejaVu Sans'; text-anchor: start" x="1996.3" y="175.2" transform="rotate(-0 1996.3 175.2)">15</text>
   </g>
   <g id="patch_20">
    <path d="M 1975.1 194.47 
C 1976.426015 194.47 1977.697899 194.996832 1978.635534 195.934466 
C 1979.573168 196.872101 1980.1 198.143985 1980.1 199.47 
C 1980.1 200.796016 1979.573168 202.067899 1978.635534 203.005534 
C 1977.697899 203.943168 1976.426015 204.47 1975.1 204.47 
C 1973.773984 204.47 1972.502101 203.943168 1971.564466 203.005534 
C 1970.626832 202.067899 1970.1 200.796016 1970.1 199.47 
C 1970.1 198.143985 1970.626832 196.872101 1971.564466 195.934466 
C 1972.502101 194.996832 1973.773984 194.47 1975.1 194.47 
z
" clip-path="url(#p36cf166029)" style="fill: #fd9668"/>
   </g>
   <g id="text_70">
    <text style="font-size: 20.3px; font-family: 'DejaVu Sans'; text-anchor: start" x="1996.3" y="204.87" transform="rotate(-0 1996.3 204.87)">30</text>
   </g>
   <g id="patch_21">
    <path d="M 1975.1 224.14 
C 1976.426015 224.14 1977.697899 224.666832 1978.635534 225.604466 
C 1979.573168 226.542101 1980.1 227.813985 1980.1 229.14 
C 1980.1 230.466016 1979.573168 231.737899 1978.635534 232.675534 
C 1977.697899 233.613168 1976.426015 234.14 1975.1 234.14 
C 1973.773984 234.14 1972.502101 233.613168 1971.564466 232.675534 
C 1970.626832 231.737899 1970.1 230.466016 1970.1 229.14 
C 1970.1 227.813985 1970.626832 226.542101 1971.564466 225.604466 
C 1972.502101 224.666832 1973.773984 224.14 1975.1 224.14 
z
" clip-path="url(#p36cf166029)" style="fill: #ed5a5f"/>
   </g>
   <g id="text_71">
    <text style="font-size: 20.3px; font-family: 'DejaVu Sans'; text-anchor: start" x="1996.3" y="234.54" transform="rotate(-0 1996.3 234.54)">60</text>
   </g>
   <g id="patch_22">
    <path d="M 1975.1 253.81 
C 1976.426015 253.81 1977.697899 254.336832 1978.635534 255.274466 
C 1979.573168 256.212101 1980.1 257.483985 1980.1 258.81 
C 1980.1 260.136015 1979.573168 261.407899 1978.635534 262.345534 
C 1977.697899 263.283168 1976.426015 263.81 1975.1 263.81 
C 1973.773984 263.81 1972.502101 263.283168 1971.564466 262.345534 
C 1970.626832 261.407899 1970.1 260.136015 1970.1 258.81 
C 1970.1 257.483985 1970.626832 256.212101 1971.564466 255.274466 
C 1972.502101 254.336832 1973.773984 253.81 1975.1 253.81 
z
" clip-path="url(#p36cf166029)" style="fill: #bf3a77"/>
   </g>
   <g id="text_72">
    <text style="font-size: 20.3px; font-family: 'DejaVu Sans'; text-anchor: start" x="1996.3" y="264.21" transform="rotate(-0 1996.3 264.21)">90</text>
   </g>
   <g id="patch_23">
    <path d="M 1975.1 283.48 
C 1976.426015 283.48 1977.697899 284.006832 1978.635534 284.944466 
C 1979.573168 285.882101 1980.1 287.153985 1980.1 288.48 
C 1980.1 289.806016 1979.573168 291.077899 1978.635534 292.015534 
C 1977.697899 292.953168 1976.426015 293.48 1975.1 293.48 
C 1973.773984 293.48 1972.502101 292.953168 1971.564466 292.015534 
C 1970.626832 291.077899 1970.1 289.806016 1970.1 288.48 
C 1970.1 287.153985 1970.626832 285.882101 1971.564466 284.944466 
C 1972.502101 284.006832 1973.773984 283.48 1975.1 283.48 
z
" clip-path="url(#p36cf166029)" style="fill: #882781"/>
   </g>
   <g id="text_73">
    <text style="font-size: 20.3px; font-family: 'DejaVu Sans'; text-anchor: start" x="1996.3" y="293.88" transform="rotate(-0 1996.3 293.88)">120</text>
   </g>
   <g id="patch_24">
    <path d="M 1975.1 313.15 
C 1976.426015 313.15 1977.697899 313.676832 1978.635534 314.614466 
C 1979.573168 315.552101 1980.1 316.823985 1980.1 318.15 
C 1980.1 319.476016 1979.573168 320.747899 1978.635534 321.685534 
C 1977.697899 322.623168 1976.426015 323.15 1975.1 323.15 
C 1973.773984 323.15 1972.502101 322.623168 1971.564466 321.685534 
C 1970.626832 320.747899 1970.1 319.476016 1970.1 318.15 
C 1970.1 316.823985 1970.626832 315.552101 1971.564466 314.614466 
C 1972.502101 313.676832 1973.773984 313.15 1975.1 313.15 
z
" clip-path="url(#p36cf166029)" style="fill: #54137d"/>
   </g>
   <g id="text_74">
    <text style="font-size: 20.3px; font-family: 'DejaVu Sans'; text-anchor: start" x="1996.3" y="323.55" transform="rotate(-0 1996.3 323.55)">150</text>
   </g>
   <g id="patch_25">
    <path d="M 1975.1 342.82 
C 1976.426015 342.82 1977.697899 343.346832 1978.635534 344.284466 
C 1979.573168 345.222101 1980.1 346.493985 1980.1 347.82 
C 1980.1 349.146016 1979.573168 350.417899 1978.635534 351.355534 
C 1977.697899 352.293168 1976.426015 352.82 1975.1 352.82 
C 1973.773984 352.82 1972.502101 352.293168 1971.564466 351.355534 
C 1970.626832 350.417899 1970.1 349.146016 1970.1 347.82 
C 1970.1 346.493985 1970.626832 345.222101 1971.564466 344.284466 
C 1972.502101 343.346832 1973.773984 342.82 1975.1 342.82 
z
" clip-path="url(#p36cf166029)" style="fill: #1e1149"/>
   </g>
   <g id="text_75">
    <text style="font-size: 20.3px; font-family: 'DejaVu Sans'; text-anchor: start" x="1996.3" y="353.22" transform="rotate(-0 1996.3 353.22)">180</text>
   </g>
  </g>
 </g>
 <defs>
  <clipPath id="p36cf166029">
   <rect x="0" y="0" width="2044" height="499"/>
  </clipPath>
 </defs>
</svg>
</body></html>
